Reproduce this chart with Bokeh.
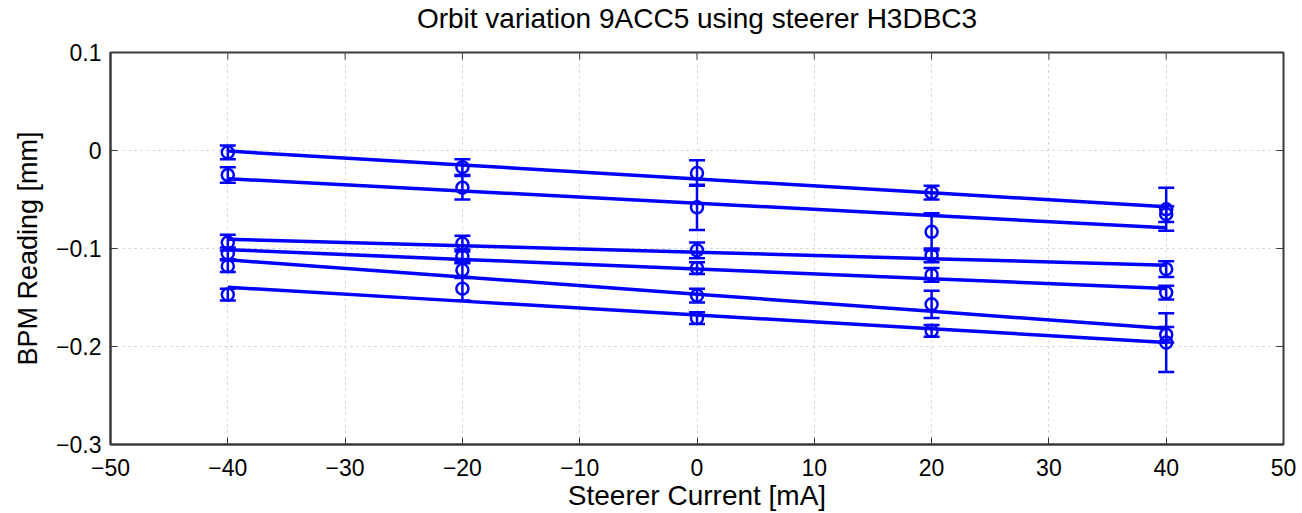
import numpy as np
from bokeh.plotting import figure
from bokeh.layouts import column
from bokeh.models import ColumnDataSource, Whisker, TeeHead, FixedTicker, Range1d
from bokeh.core.properties import value
from bokeh.embed import file_html
from bokeh.resources import INLINE

# Steerer current [mA]
current = [-40, -20, 0, 20, 40]

# BPM readings [mm] for six BPMs and their error bars
bpm1 = [-0.002, -0.017, -0.023, -0.043, -0.060]
err1 = [0.007, 0.008, 0.013, 0.007, 0.022]
bpm2 = [-0.025, -0.038, -0.058, -0.083, -0.065]
err2 = [0.008, 0.012, 0.023, 0.019, 0.008]
bpm3 = [-0.094, -0.095, -0.102, -0.107, -0.121]
err3 = [0.008, 0.008, 0.008, 0.007, 0.008]
bpm4 = [-0.105, -0.108, -0.120, -0.127, -0.145]
err4 = [0.006, 0.007, 0.006, 0.007, 0.007]
bpm5 = [-0.118, -0.122, -0.148, -0.157, -0.188]
err5 = [0.006, 0.008, 0.007, 0.014, 0.008]
bpm6 = [-0.147, -0.141, -0.171, -0.184, -0.196]
err6 = [0.006, 0.012, 0.006, 0.006, 0.030]

x_ticks = [-50, -40, -30, -20, -10, 0, 10, 20, 30, 40, 50]
y_ticks = [-0.3, -0.2, -0.1, 0, 0.1]

title = "Orbit variation 9ACC5 using steerer H3DBC3"
x_label = "Steerer Current [mA]"
y_label = "BPM Reading [mm]"

BLUE = "#0000ff"
AXC = "#3a3a3a"
FONT = "Liberation Sans"
X0, X1 = -50, 50
Y0, Y1 = -0.3, 0.1

# ---- title strip (its frame is aligned with the main plot's frame by the column layout) ----
t = figure(width=1302, height=36, output_backend="svg", toolbar_location=None,
           x_range=Range1d(X0, X1), y_range=Range1d(0, 1),
           x_axis_type=None, y_axis_type=None,
           min_border_left=0, min_border_right=0, min_border_top=0, min_border_bottom=0)
t.outline_line_color = None
t.background_fill_color = "white"
t.border_fill_color = "white"
t.xgrid.visible = False
t.ygrid.visible = False
t.text(x=[(X0 + X1) / 2], y=[0.5], text=[title], text_align="center", text_baseline="middle",
       text_font=value(FONT), text_font_size="28px", text_color="#000000")

# ---- main plot ----
p = figure(width=1302, height=477, output_backend="svg", toolbar_location=None,
           x_range=Range1d(X0, X1), y_range=Range1d(Y0, Y1),
           min_border_left=110, min_border_right=19, min_border_top=16, min_border_bottom=69)
p.background_fill_color = "white"
p.border_fill_color = "white"
p.outline_line_color = AXC
p.outline_line_width = 2

def fmt(v):
    return ("%g" % v).replace("-", "\u2212")

for ax in p.xaxis:
    ax.ticker = FixedTicker(ticks=x_ticks)
    ax.major_label_overrides = {t_: fmt(t_) for t_ in x_ticks}
    ax.axis_label = x_label
    ax.axis_label_standoff = 1
    ax.axis_label_text_font_size = "28px"
    ax.major_label_standoff = 14
for ax in p.yaxis:
    ax.ticker = FixedTicker(ticks=y_ticks)
    ax.major_label_overrides = {t_: fmt(t_) for t_ in y_ticks}
    ax.axis_label = y_label
    ax.axis_label_standoff = 10
    ax.axis_label_text_font_size = "27px"
    ax.major_label_standoff = 9

for ax in list(p.xaxis) + list(p.yaxis):
    ax.axis_label_text_font = FONT
    ax.axis_label_text_font_style = "normal"
    ax.axis_label_text_color = "#000000"
    ax.major_label_text_font = FONT
    ax.major_label_text_font_size = "23px"
    ax.major_label_text_color = "#000000"
    ax.axis_line_color = AXC
    ax.axis_line_width = 2
    ax.major_tick_in = 7
    ax.major_tick_out = 0
    ax.major_tick_line_color = AXC
    ax.minor_tick_line_color = None

# box ticks on the top and right edges (drawn as short screen-length rays)
p.ray(x=x_ticks, y=[Y1] * len(x_ticks), length=7, length_units="screen",
      angle=-np.pi / 2, line_color=AXC, line_width=1)
p.ray(x=[X1] * len(y_ticks), y=y_ticks, length=7, length_units="screen",
      angle=np.pi, line_color=AXC, line_width=1)

p.xgrid.ticker = FixedTicker(ticks=x_ticks)
p.ygrid.ticker = FixedTicker(ticks=y_ticks)
for g in (p.xgrid, p.ygrid):
    g.grid_line_color = "#c8c8c8"
    g.grid_line_dash = "2 4"
    g.grid_line_width = 1

series = [(bpm1, err1), (bpm2, err2), (bpm3, err3), (bpm4, err4), (bpm5, err5), (bpm6, err6)]
xs = np.array(current, dtype=float)
for vals, errs in series:
    v = np.array(vals)
    e = np.array(errs)
    src = ColumnDataSource(dict(x=xs, y=v, lo=v - e, hi=v + e))
    slope, icpt = np.polyfit(xs, v, 1)
    p.line(xs, slope * xs + icpt, line_color=BLUE, line_width=3.5)
    w = Whisker(source=src, base="x", upper="hi", lower="lo", dimension="height",
                line_color=BLUE, line_width=2.5,
                upper_head=TeeHead(size=16, line_color=BLUE, line_width=2.5),
                lower_head=TeeHead(size=16, line_color=BLUE, line_width=2.5))
    p.add_layout(w)
    p.scatter("x", "y", source=src, marker="circle", size=12, fill_color=None,
              line_color=BLUE, line_width=2.5)

layout = column(t, p, spacing=0)
open("out.html", "w").write(file_html(layout, INLINE))
